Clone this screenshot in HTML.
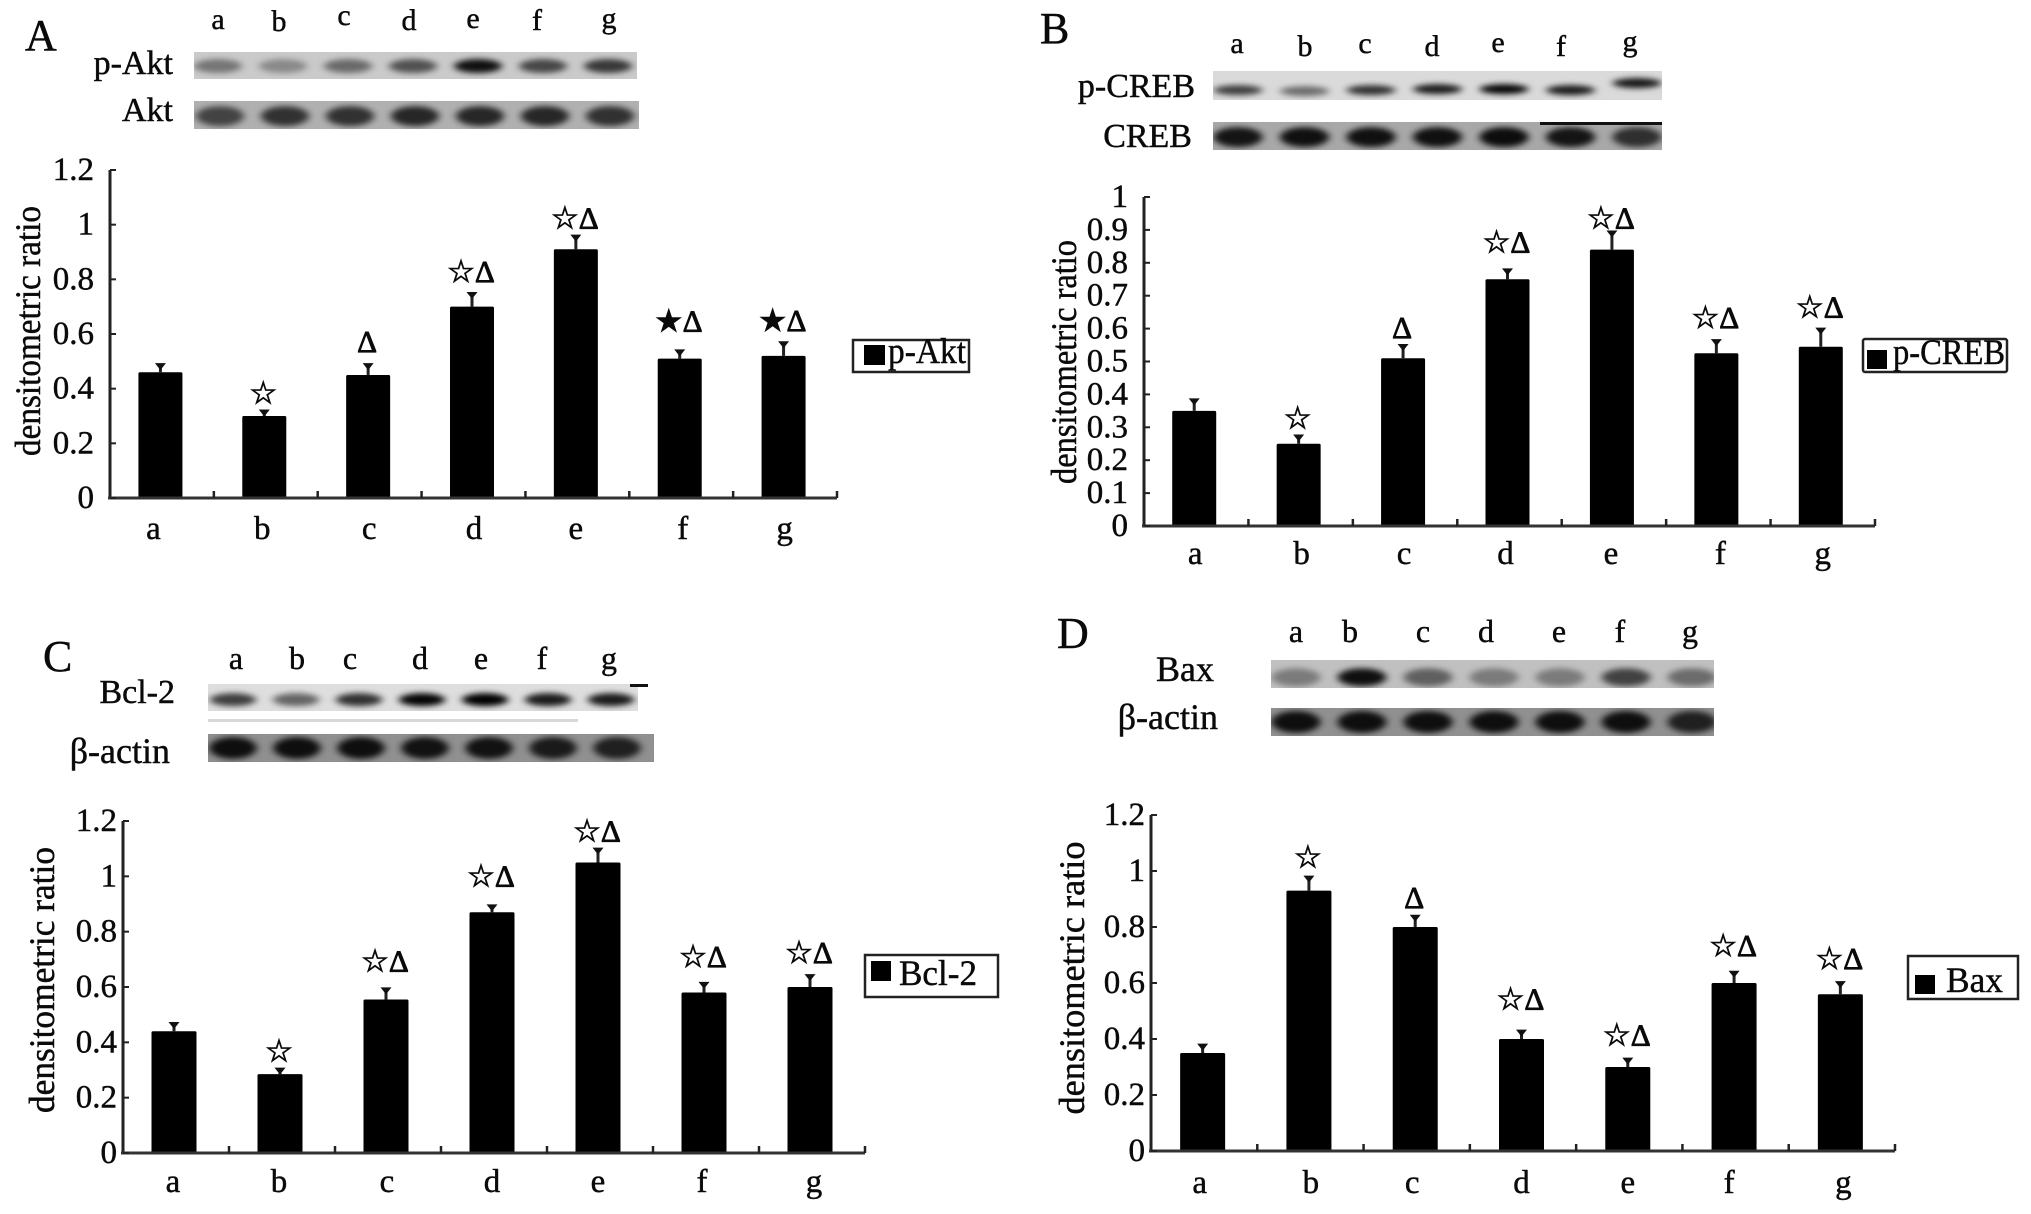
<!DOCTYPE html>
<html lang="en">
<head>
<meta charset="utf-8">
<title>Densitometric ratio panels A–D</title>
<style>
html,body{margin:0;padding:0;background:#fff;width:2031px;height:1214px;overflow:hidden}
svg{display:block}
text{font-family:"Liberation Serif","DejaVu Sans",serif;fill:#0a0a0a;stroke:#0a0a0a;stroke-width:.45px}
.letter{font-size:44px}
.lane{font-size:30px;text-anchor:middle}
.blot{font-size:34px;text-anchor:end}
.blot-wide{font-size:36px;text-anchor:end}
.ytitle{font-size:36px;text-anchor:middle}
.tick{font-size:33px;text-anchor:end}
.cat{font-size:33px;text-anchor:middle}
.mark{font-size:31px;text-anchor:middle;stroke-width:.9px}
.leg{font-size:36px}
.box{fill:#fff;stroke:#222;stroke-width:2.5}
</style>
</head>
<body>
<svg id="figure" xmlns="http://www.w3.org/2000/svg" width="2031" height="1214" viewBox="0 0 2031 1214">
<defs>
<filter id="soft" x="-30%" y="-80%" width="160%" height="260%"><feGaussianBlur stdDeviation="4 3"/></filter>
</defs>

<g id="layer-blots"></g>
<rect x="1540" y="122" width="122" height="3" fill="#111"/>
<rect x="630" y="684" width="18" height="3" fill="#111"/>
<rect x="208" y="719" width="370" height="3" fill="#d8d8d8"/>
<g id="layer-charts"></g>

<text class="letter" x="25" y="50">A</text>
<text class="letter" x="1040" y="43">B</text>
<text class="letter" x="43" y="671">C</text>
<text class="letter" x="1057" y="648">D</text>

<g>
<text class="lane" x="218" y="29">a</text>
<text class="lane" x="279" y="31">b</text>
<text class="lane" x="344" y="25">c</text>
<text class="lane" x="409" y="30">d</text>
<text class="lane" x="473" y="28">e</text>
<text class="lane" x="537" y="30">f</text>
<text class="lane" x="609" y="28">g</text>
</g>
<g>
<text class="lane" x="1237" y="53">a</text>
<text class="lane" x="1305" y="56">b</text>
<text class="lane" x="1365" y="53">c</text>
<text class="lane" x="1432" y="56">d</text>
<text class="lane" x="1498" y="52">e</text>
<text class="lane" x="1561" y="56">f</text>
<text class="lane" x="1630" y="51">g</text>
</g>
<g style="font-size:32px">
<text class="lane" style="font-size:32px" x="236" y="669">a</text>
<text class="lane" style="font-size:32px" x="297" y="669">b</text>
<text class="lane" style="font-size:32px" x="350" y="669">c</text>
<text class="lane" style="font-size:32px" x="420" y="669">d</text>
<text class="lane" style="font-size:32px" x="481" y="669">e</text>
<text class="lane" style="font-size:32px" x="542" y="669">f</text>
<text class="lane" style="font-size:32px" x="609" y="669">g</text>
</g>
<g>
<text class="lane" style="font-size:32px" x="1296" y="642">a</text>
<text class="lane" style="font-size:32px" x="1350" y="642">b</text>
<text class="lane" style="font-size:32px" x="1423" y="642">c</text>
<text class="lane" style="font-size:32px" x="1486" y="642">d</text>
<text class="lane" style="font-size:32px" x="1559" y="642">e</text>
<text class="lane" style="font-size:32px" x="1620" y="642">f</text>
<text class="lane" style="font-size:32px" x="1690" y="642">g</text>
</g>

<text class="blot" x="173" y="74">p-Akt</text>
<text class="blot" x="173" y="121">Akt</text>
<text class="blot" x="1195" y="97">p-CREB</text>
<text class="blot" x="1192" y="147">CREB</text>
<text class="blot" x="175" y="703">Bcl-2</text>
<text class="blot-wide" x="170" y="763">β-actin</text>
<text class="blot-wide" x="1214" y="681">Bax</text>
<text class="blot-wide" x="1218" y="729">β-actin</text>

<text class="ytitle" transform="translate(40,331) rotate(-90)" textLength="250" lengthAdjust="spacingAndGlyphs">densitometric ratio</text>
<text class="ytitle" transform="translate(1076,362) rotate(-90)" textLength="244" lengthAdjust="spacingAndGlyphs">densitometric ratio</text>
<text class="ytitle" transform="translate(54,980) rotate(-90)" textLength="266" lengthAdjust="spacingAndGlyphs">densitometric ratio</text>
<text class="ytitle" transform="translate(1084,978) rotate(-90)" textLength="273" lengthAdjust="spacingAndGlyphs">densitometric ratio</text>

<g>
<rect class="box" x="853" y="340" width="116" height="32"/>
<rect x="864" y="345" width="21" height="20" fill="#000"/>
<text class="leg" x="888" y="363" textLength="78" lengthAdjust="spacingAndGlyphs">p-Akt</text>
</g>
<g>
<rect class="box" x="1863" y="339" width="144" height="33" rx="2"/>
<rect x="1867" y="350" width="20" height="19" fill="#000"/>
<text class="leg" x="1893" y="364" textLength="112" lengthAdjust="spacingAndGlyphs">p-CREB</text>
</g>
<g>
<rect class="box" x="865" y="955" width="133" height="42"/>
<rect x="871" y="961" width="20" height="20" fill="#000"/>
<text class="leg" x="899" y="985" textLength="78" lengthAdjust="spacingAndGlyphs">Bcl-2</text>
</g>
<g>
<rect class="box" x="1908" y="956" width="110" height="43"/>
<rect x="1915" y="975" width="20" height="19" fill="#000"/>
<text class="leg" x="1946" y="992" textLength="57" lengthAdjust="spacingAndGlyphs">Bax</text>
</g>
</svg>

<script>
// ---- chart data ----
const categories = ['a','b','c','d','e','f','g'];

const valuesA = [0.46,0.30,0.45,0.70,0.91,0.51,0.52];
const errorsA = [0.03,0.02,0.04,0.05,0.05,0.03,0.05];
const marksA  = ['','☆','Δ','☆Δ','☆Δ','★Δ','★Δ'];
const ticksA  = [0,0.2,0.4,0.6,0.8,1,1.2];

const valuesB = [0.35,0.25,0.51,0.75,0.84,0.525,0.545];
const errorsB = [0.035,0.025,0.04,0.03,0.055,0.04,0.055];
const marksB  = ['','☆','Δ','☆Δ','☆Δ','☆Δ','☆Δ'];
const ticksB  = [0,0.1,0.2,0.3,0.4,0.5,0.6,0.7,0.8,0.9,1];

const valuesC = [0.44,0.285,0.555,0.87,1.05,0.58,0.60];
const errorsC = [0.03,0.02,0.04,0.025,0.05,0.035,0.043];
const marksC  = ['','☆','☆Δ','☆Δ','☆Δ','☆Δ','☆Δ'];
const ticksC  = [0,0.2,0.4,0.6,0.8,1,1.2];

const valuesD = [0.35,0.93,0.80,0.40,0.30,0.60,0.56];
const errorsD = [0.03,0.05,0.04,0.03,0.03,0.04,0.043];
const marksD  = ['','☆','Δ','☆Δ','☆Δ','☆Δ','☆Δ'];
const ticksD  = [0,0.2,0.4,0.6,0.8,1,1.2];

// band darkness for each blot lane (0-1)
const bandsPAkt  = [0.42,0.32,0.48,0.60,0.92,0.65,0.72];
const bandsAkt   = [0.62,0.72,0.72,0.78,0.78,0.78,0.72];
const bandsPCreb = [0.72,0.50,0.78,0.88,0.98,0.88,0.90];
const bandsCreb  = [0.88,0.90,0.90,0.90,0.92,0.88,0.72];
const bandsBcl   = [0.72,0.55,0.78,0.98,1.00,0.88,0.88];
const bandsActC  = [0.90,0.90,0.90,0.88,0.88,0.82,0.78];
const bandsBax   = [0.36,0.92,0.50,0.36,0.36,0.66,0.44];
const bandsActD  = [0.90,0.90,0.90,0.90,0.90,0.90,0.78];

const SVGNS = 'http://www.w3.org/2000/svg';
function make(tag, attrs, parent, txt){
  const e = document.createElementNS(SVGNS, tag);
  for (const k in attrs) e.setAttribute(k, attrs[k]);
  if (txt !== undefined) e.textContent = txt;
  parent.appendChild(e);
  return e;
}

function drawChart(parent, key, cfg, values, errors, marks, ticks){
  const g = make('g', {}, parent);
  
  
  const maxV = ticks[ticks.length - 1];
  const yScale = v => cfg.base - v / maxV * (cfg.base - cfg.top);
  const step = (cfg.right - cfg.left) / categories.length;
  const xScale = i => cfg.left + step * (i + 0.5) + cfg.shift;

  values.forEach((v, i) => {
    const x = xScale(i);
    const errTop = yScale(v + errors[i]);
    const line = make('line', {x1:x, x2:x, y1:yScale(v), y2:errTop, stroke:'#222', 'stroke-width':3}, g);
    
    
    const cap = make('polygon', {points:[(x-5.5)+','+(errTop-1),(x+5.5)+','+(errTop-1),x+','+(errTop+6)].join(' '), fill:'#111'}, g);
    
    
    const bar = make('rect', {x:x - cfg.barW/2, y:yScale(v), width:cfg.barW, height:cfg.base - yScale(v), fill:'#000', rx:1.5}, g);
    
    
    if (marks[i]) {
      const m = make('text', {class:'mark', x:x - 1, y:errTop - 7 - cfg.markLift[i]}, g, marks[i]);
      
      
    }
    const label = make('text', {class:'cat', x:x + cfg.catNudge[i], y:cfg.catY}, g, categories[i]);
    
    
  });

  const yAxis = make('line', {x1:cfg.left, x2:cfg.left, y1:cfg.top, y2:cfg.base + 1, stroke:'#222', 'stroke-width':3}, g);
  
  
  const xAxis = make('line', {x1:cfg.left - 2, x2:cfg.right, y1:cfg.base, y2:cfg.base, stroke:'#333', 'stroke-width':3}, g);
  
  

  categories.forEach((c, i) => {
    const x = cfg.left + step * (i + 1);
    const t = make('line', {x1:x, x2:x, y1:cfg.base, y2:cfg.base - 7, stroke:'#222', 'stroke-width':2.5}, g);
    
    
  });
  ticks.forEach(v => {
    const y = yScale(v);
    const t = make('line', {x1:cfg.left, x2:cfg.left + 6, y1:y, y2:y, stroke:'#222', 'stroke-width':2}, g);
    
    
    const l = make('text', {class:'tick', x:cfg.left - cfg.labelGap, y:y + 10}, g, String(v));
    
    
  });
}

let clipCount = 0;
function drawBlot(parent, name, s, bands){
  const g = make('g', {}, parent);
  
  
  const defs = document.querySelector('defs');
  const id = 'clip' + (clipCount++);
  const cp = make('clipPath', {id:id}, defs);
  make('rect', {x:s.x, y:s.y, width:s.w, height:s.h}, cp);
  const inner = make('g', {'clip-path':'url(#' + id + ')'}, g);
  make('rect', {x:s.x, y:s.y, width:s.w, height:s.h, fill:s.bg}, inner);
  bands.forEach((d, i) => {
    const band = make('ellipse', {
      cx:s.laneStart + s.laneStep * i,
      cy:s.y + s.h * s.cy + (s.laneDy ? s.laneDy[i] : 0),
      rx:s.laneStep * 0.37, ry:s.ry, fill:'#000', 'fill-opacity':d, filter:'url(#soft)'
    }, inner);
    
    
  });
}

const chartLayer = document.getElementById('layer-charts');
const blotLayer = document.getElementById('layer-blots');

drawChart(chartLayer, 'a', {left:110,right:837,top:170,base:498,barW:44,shift:-1.5,catY:539,labelGap:16,
  markLift:[0,0,5,4,0,12,4], catNudge:[-7,-2,1,2,0,3,1]}, valuesA, errorsA, marksA, ticksA);
drawChart(chartLayer, 'b', {left:1144,right:1875,top:197,base:526,barW:44,shift:-2,catY:564,labelGap:16,
  markLift:[0,0,0,10,-4,5,4], catNudge:[1,3,1,-2,-1,4,2]}, valuesB, errorsB, marksB, ticksB);
drawChart(chartLayer, 'c', {left:123,right:865,top:821,base:1153,barW:45,shift:-2,catY:1192,labelGap:6,
  markLift:[0,0,10,12,0,9,5], catNudge:[-1,-1,1,0,0,-2,4]}, valuesC, errorsC, marksC, ticksC);
drawChart(chartLayer, 'd', {left:1151,right:1895,top:815,base:1151,barW:45,shift:-1.5,catY:1193,labelGap:6,
  markLift:[0,2,1,14,6,9,6], catNudge:[-3,2,-3,0,0,-5,3]}, valuesD, errorsD, marksD, ticksD);

drawBlot(blotLayer, 'p-akt',  {x:194,y:52,w:443,h:27,bg:'#cacaca',cy:.52,ry:7,laneStart:218,laneStep:65},  bandsPAkt);
drawBlot(blotLayer, 'akt',    {x:194,y:101,w:445,h:28,bg:'#b0b0b0',cy:.54,ry:10,laneStart:220,laneStep:65}, bandsAkt);
drawBlot(blotLayer, 'p-creb', {x:1213,y:71,w:449,h:29,bg:'#dadada',cy:.66,ry:5,laneStart:1238,laneStep:66.5,laneDy:[0,1,0,-1,-1,0,-7]},  bandsPCreb);
drawBlot(blotLayer, 'creb',   {x:1213,y:122,w:449,h:28,bg:'#a8a8a8',cy:.54,ry:10,laneStart:1238,laneStep:66.5}, bandsCreb);
drawBlot(blotLayer, 'bcl-2',  {x:208,y:684,w:430,h:27,bg:'#dedede',cy:.58,ry:6.5,laneStart:233,laneStep:63},  bandsBcl);
drawBlot(blotLayer, 'actin-c',{x:208,y:734,w:446,h:28,bg:'#909090',cy:.5,ry:11,laneStart:233,laneStep:64},  bandsActC);
drawBlot(blotLayer, 'bax',    {x:1271,y:660,w:443,h:28,bg:'#c0c0c0',cy:.62,ry:9,laneStart:1296,laneStep:66},  bandsBax);
drawBlot(blotLayer, 'actin-d',{x:1271,y:708,w:443,h:28,bg:'#909090',cy:.5,ry:11,laneStart:1296,laneStep:66},  bandsActD);
</script>
</body>
</html>
